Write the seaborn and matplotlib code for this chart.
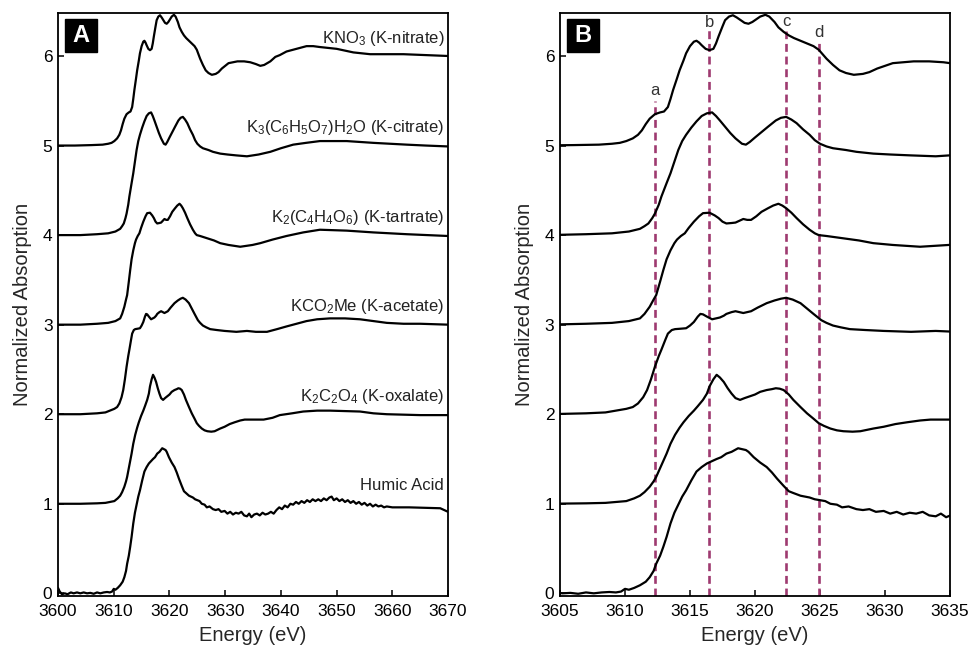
import pandas as pd
import seaborn as sns
import matplotlib.pyplot as plt
from matplotlib.patches import Rectangle

# K K-edge XANES spectra: (energy eV, normalized absorption)
nitrate = [(3600, 0.00), (3603, 0.00), (3606, 0.005), (3608, 0.01), (3609, 0.02), (3609.6, 0.03),
           (3610.1, 0.05), (3610.6, 0.08), (3611.0, 0.12), (3611.3, 0.17), (3611.6, 0.24),
           (3611.9, 0.30), (3612.3, 0.35), (3612.7, 0.37), (3613.0, 0.38), (3613.3, 0.43),
           (3613.5, 0.52), (3613.7, 0.62), (3614.0, 0.75), (3614.2, 0.84), (3614.5, 0.95),
           (3614.7, 1.03), (3615.0, 1.11), (3615.3, 1.16), (3615.5, 1.17), (3615.7, 1.15),
           (3615.9, 1.12), (3616.2, 1.08), (3616.5, 1.065), (3616.8, 1.08), (3617.0, 1.14),
           (3617.2, 1.22), (3617.5, 1.33), (3617.7, 1.40), (3618.0, 1.44), (3618.3, 1.455),
           (3618.6, 1.43), (3618.9, 1.40), (3619.2, 1.37), (3619.5, 1.36), (3619.8, 1.38),
           (3620.1, 1.41), (3620.4, 1.44), (3620.8, 1.46), (3621.1, 1.44), (3621.5, 1.38),
           (3621.8, 1.32), (3622.2, 1.27), (3622.6, 1.23), (3623.0, 1.20), (3623.5, 1.17),
           (3624.0, 1.14), (3624.5, 1.11), (3624.9, 1.07), (3625.2, 1.02), (3625.5, 0.97),
           (3626.0, 0.90), (3626.5, 0.84), (3627.0, 0.81), (3627.6, 0.79), (3628.3, 0.80),
           (3628.8, 0.82), (3629.4, 0.86), (3630.0, 0.89), (3630.6, 0.92), (3631.4, 0.93),
           (3632.2, 0.94), (3633.4, 0.94), (3634.5, 0.93), (3635.5, 0.91), (3636.3, 0.89),
           (3637.0, 0.90), (3638.1, 0.94), (3639.0, 0.99), (3639.8, 1.01), (3641.0, 1.05),
           (3642.2, 1.07), (3643.4, 1.09), (3644.6, 1.11), (3645.8, 1.11), (3647.0, 1.10),
           (3648.5, 1.09), (3650.0, 1.08), (3651.5, 1.06), (3653.0, 1.04), (3654.5, 1.03),
           (3656.0, 1.02), (3659.0, 1.02), (3662.0, 1.02), (3666.0, 1.01), (3670, 1.00)]

citrate = [(3600, 0.0), (3604, 0.0), (3607, 0.01), (3609, 0.02), (3610.3, 0.04), (3611.15, 0.07),
           (3611.5, 0.10), (3611.8, 0.13), (3612.1, 0.19), (3612.3, 0.24), (3612.6, 0.34),
           (3612.8, 0.43), (3613.2, 0.58), (3613.5, 0.69), (3613.8, 0.82), (3614.1, 0.95),
           (3614.4, 1.05), (3614.7, 1.12), (3615.1, 1.20), (3615.5, 1.27), (3615.9, 1.33),
           (3616.3, 1.36), (3616.7, 1.37), (3617.0, 1.33), (3617.3, 1.28), (3617.7, 1.21),
           (3618.1, 1.14), (3618.5, 1.08), (3619.0, 1.02), (3619.3, 1.01), (3619.6, 1.04),
           (3620.0, 1.09), (3620.5, 1.15), (3621.0, 1.21), (3621.6, 1.28), (3622.0, 1.31),
           (3622.4, 1.32), (3622.8, 1.29), (3623.2, 1.25), (3623.7, 1.18), (3624.2, 1.12),
           (3624.6, 1.06), (3625.0, 1.02), (3625.5, 0.99), (3626.0, 0.97), (3627.0, 0.95),
           (3627.8, 0.93), (3629.1, 0.91), (3630.4, 0.90), (3632.0, 0.89), (3633.9, 0.88),
           (3636.0, 0.90), (3638.1, 0.93), (3640.0, 0.97), (3642.2, 1.01), (3644.5, 1.03),
           (3647.0, 1.05), (3651.8, 1.05), (3656.6, 1.03), (3662.6, 1.01), (3666, 1.00),
           (3670, 0.99)]

tartrate = [(3600, 0.0), (3604, 0.0), (3607, 0.01), (3609, 0.02), (3610.3, 0.04), (3611.15, 0.07),
            (3611.5, 0.12), (3611.9, 0.20), (3612.2, 0.28), (3612.4, 0.33), (3612.7, 0.48),
            (3612.95, 0.61), (3613.2, 0.73), (3613.5, 0.83), (3613.8, 0.91), (3614.0, 0.95),
            (3614.3, 0.99), (3614.6, 1.02), (3614.9, 1.08), (3615.3, 1.15), (3615.7, 1.21),
            (3616.0, 1.245), (3616.5, 1.25), (3616.9, 1.22), (3617.2, 1.19), (3617.5, 1.15),
            (3617.8, 1.13), (3618.2, 1.135), (3618.5, 1.14), (3618.8, 1.16), (3619.1, 1.18),
            (3619.4, 1.17), (3619.7, 1.17), (3620.1, 1.21), (3620.5, 1.26), (3621.0, 1.30),
            (3621.4, 1.33), (3621.8, 1.35), (3622.1, 1.33), (3622.4, 1.30), (3622.8, 1.25),
            (3623.2, 1.19), (3623.7, 1.12), (3624.2, 1.06), (3624.6, 1.02), (3624.9, 1.00),
            (3625.5, 0.99), (3626.0, 0.98), (3627.0, 0.96), (3628.0, 0.94), (3629.1, 0.91),
            (3630.6, 0.89), (3632.7, 0.87), (3634.9, 0.89), (3636.3, 0.91), (3638.5, 0.95),
            (3641.0, 0.99), (3644.0, 1.03), (3647.0, 1.06), (3651.8, 1.05), (3656.6, 1.03),
            (3662.6, 1.01), (3670, 0.99)]

acetate = [(3600, 0.0), (3604, 0.0), (3607, 0.01), (3608.5, 0.02), (3610.1, 0.06), (3610.6, 0.08),
           (3611.0, 0.12), (3611.4, 0.19), (3611.7, 0.27), (3612.0, 0.39), (3612.3, 0.53),
           (3612.6, 0.65), (3612.8, 0.72), (3613.1, 0.83), (3613.3, 0.90), (3613.6, 0.94),
           (3613.85, 0.95), (3614.3, 0.955), (3614.7, 0.96), (3615.0, 0.99), (3615.3, 1.03),
           (3615.6, 1.09), (3615.8, 1.12), (3616.0, 1.115), (3616.3, 1.09), (3616.7, 1.06),
           (3617.0, 1.07), (3617.3, 1.08), (3617.6, 1.10), (3617.8, 1.12), (3618.2, 1.14),
           (3618.5, 1.15), (3618.8, 1.14), (3619.1, 1.13), (3619.4, 1.14), (3619.7, 1.15),
           (3620.2, 1.19), (3620.9, 1.24), (3621.5, 1.27), (3622.0, 1.29), (3622.4, 1.30),
           (3622.9, 1.28), (3623.5, 1.24), (3624.0, 1.18), (3624.5, 1.12), (3625.1, 1.05),
           (3625.5, 1.02), (3626.0, 0.99), (3626.6, 0.97), (3627.3, 0.95), (3628.5, 0.94),
           (3629.9, 0.93), (3632.0, 0.92), (3633.9, 0.93), (3635.5, 0.92), (3637.5, 0.92),
           (3639.3, 0.95), (3641.0, 0.98), (3642.8, 1.01), (3644.6, 1.04), (3646.5, 1.06),
           (3648.8, 1.07), (3651.5, 1.07), (3654.2, 1.06), (3656.6, 1.04), (3659.0, 1.02),
           (3662.0, 1.01), (3665.0, 1.01), (3670, 1.00)]

oxalate = [(3600, 0.0), (3604, 0.0), (3607, 0.005), (3608.5, 0.01), (3610.1, 0.03), (3610.7, 0.06),
           (3611.15, 0.09), (3611.5, 0.13), (3611.9, 0.19), (3612.2, 0.25), (3612.4, 0.30),
           (3612.8, 0.43), (3613.2, 0.56), (3613.5, 0.67), (3613.85, 0.77), (3614.2, 0.85),
           (3614.5, 0.91), (3614.9, 0.98), (3615.3, 1.04), (3615.6, 1.09), (3616.0, 1.16),
           (3616.3, 1.23), (3616.5, 1.31), (3616.8, 1.39), (3617.05, 1.44), (3617.3, 1.41),
           (3617.6, 1.36), (3617.9, 1.29), (3618.2, 1.23), (3618.5, 1.18), (3618.85, 1.16),
           (3619.2, 1.18), (3619.6, 1.20), (3620.0, 1.22), (3620.4, 1.25), (3620.9, 1.27),
           (3621.3, 1.28), (3621.6, 1.29), (3621.9, 1.285), (3622.2, 1.27), (3622.6, 1.22),
           (3622.95, 1.16), (3623.5, 1.08), (3624.0, 1.01), (3624.5, 0.95), (3624.9, 0.90),
           (3625.3, 0.87), (3625.8, 0.84), (3626.3, 0.82), (3626.8, 0.81), (3627.5, 0.805),
           (3628.1, 0.81), (3629.1, 0.84), (3629.9, 0.86), (3630.8, 0.89), (3631.7, 0.91),
           (3632.7, 0.93), (3633.5, 0.94), (3635.0, 0.94), (3636.9, 0.94), (3638.5, 0.96),
           (3639.8, 0.99), (3642.0, 1.01), (3644.0, 1.03), (3646.5, 1.04), (3648.8, 1.04),
           (3651.5, 1.035), (3654.2, 1.03), (3656.6, 1.01), (3659.0, 1.00), (3665.0, 0.99),
           (3670, 0.99)]

humic = [(3600, 0.06), (3600.3, 0.02), (3600.7, -0.01), (3601.2, 0.0), (3601.7, -0.01), (3602.3, 0.01),
         (3602.8, 0.0), (3603.4, 0.01), (3604, 0.0), (3604.6, 0.01), (3605.2, 0.0), (3605.8, 0.005),
         (3606.4, -0.005), (3607, 0.01), (3607.6, 0.0), (3608.2, 0.01), (3608.8, 0.015), (3609.3, 0.01),
         (3609.7, 0.02), (3610.0, 0.05), (3610.3, 0.04), (3610.7, 0.06), (3611.15, 0.09), (3611.6, 0.13),
         (3611.9, 0.18), (3612.2, 0.25), (3612.4, 0.33), (3612.7, 0.42), (3612.95, 0.52), (3613.2, 0.63),
         (3613.5, 0.78), (3613.8, 0.90), (3614.1, 0.99), (3614.4, 1.08), (3614.7, 1.15), (3615.1, 1.26),
         (3615.5, 1.36), (3615.9, 1.41), (3616.3, 1.45), (3616.6, 1.47), (3617.05, 1.50), (3617.4, 1.52),
         (3617.8, 1.56), (3618.2, 1.58), (3618.7, 1.62), (3619.0, 1.61), (3619.3, 1.60), (3619.5, 1.58),
         (3619.9, 1.52), (3620.4, 1.46), (3620.9, 1.41), (3621.3, 1.35), (3621.7, 1.28), (3622.2, 1.20),
         (3622.6, 1.14), (3622.95, 1.12), (3623.5, 1.09), (3624.2, 1.07), (3624.6, 1.05), (3625.0, 1.04),
         (3625.4, 1.03), (3625.8, 1.00), (3626.3, 0.99), (3626.7, 0.96), (3627.2, 0.97), (3627.8, 0.94),
         (3628.3, 0.93), (3628.8, 0.94), (3629.3, 0.91), (3629.9, 0.92), (3630.4, 0.89), (3630.9, 0.91),
         (3631.4, 0.88), (3631.9, 0.90), (3632.4, 0.89), (3632.9, 0.91), (3633.4, 0.87), (3633.9, 0.86),
         (3634.3, 0.89), (3634.7, 0.85), (3635.2, 0.88), (3635.7, 0.89), (3636.2, 0.87), (3636.7, 0.90),
         (3637.2, 0.88), (3637.7, 0.89), (3638.2, 0.91), (3638.7, 0.89), (3639.2, 0.93), (3639.7, 0.96),
         (3640.2, 0.94), (3640.7, 0.98), (3641.2, 0.96), (3641.7, 1.00), (3642.2, 0.99), (3642.7, 1.02),
         (3643.2, 1.00), (3643.7, 1.03), (3644.2, 1.01), (3644.7, 1.04), (3645.2, 1.02), (3645.7, 1.05),
         (3646.2, 1.03), (3646.7, 1.05), (3647.2, 1.03), (3647.7, 1.06), (3648.2, 1.04), (3648.7, 1.07),
         (3649.1, 1.08), (3649.5, 1.04), (3650.0, 1.06), (3650.5, 1.03), (3651.0, 1.05), (3651.5, 1.02),
         (3652.0, 1.04), (3652.5, 1.01), (3653.0, 1.03), (3653.5, 1.00), (3654.0, 1.02), (3654.5, 0.99),
         (3655.0, 1.01), (3655.5, 0.98), (3656.0, 1.00), (3656.5, 0.97), (3657.0, 0.99), (3657.5, 0.97),
         (3658.0, 0.98), (3658.5, 0.96), (3659.0, 0.97), (3660, 0.96), (3663, 0.96), (3666, 0.955),
         (3668.6, 0.95), (3669.3, 0.93), (3670, 0.91)]

sample_labels = [r"KNO$_\mathregular{3}$ (K-nitrate)",
                 r"K$_\mathregular{3}$(C$_\mathregular{6}$H$_\mathregular{5}$O$_\mathregular{7}$)H$_\mathregular{2}$O (K-citrate)",
                 r"K$_\mathregular{2}$(C$_\mathregular{4}$H$_\mathregular{4}$O$_\mathregular{6}$) (K-tartrate)",
                 r"KCO$_\mathregular{2}$Me (K-acetate)",
                 r"K$_\mathregular{2}$C$_\mathregular{2}$O$_\mathregular{4}$ (K-oxalate)",
                 "Humic Acid"]
spectra = [nitrate, citrate, tartrate, acetate, oxalate, humic]
stack_offset = [5, 4, 3, 2, 1, 0]

# feature energies marked in panel B
feature_names = ["a", "b", "c", "d"]
feature_e = [3612.3, 3616.5, 3622.4, 3624.9]
feature_top = [5.50, 6.29, 6.28, 6.18]
feature_label_y = [5.62, 6.37, 6.38, 6.26]

sns.set_style("ticks")
plt.rcParams.update({
    "font.family": ["Liberation Sans", "DejaVu Sans"],
    "mathtext.fontset": "custom",
    "mathtext.rm": "Liberation Sans",
    "mathtext.it": "Liberation Sans:italic",
    "mathtext.bf": "Liberation Sans:bold",
    "axes.edgecolor": "black",
    "axes.linewidth": 1.3,
    "xtick.direction": "in",
    "ytick.direction": "in",
    "xtick.major.size": 4,
    "ytick.major.size": 4,
    "xtick.color": "black",
    "ytick.color": "black",
})

frames = []
for name, spec, off in zip(sample_labels, spectra, stack_offset):
    e, mu = zip(*spec)
    frames.append(pd.DataFrame({"energy": e, "absorption": [m + off for m in mu], "sample": name}))
df = pd.concat(frames, ignore_index=True)

fig = plt.figure(figsize=(9.69, 6.47), dpi=100)
ax_a = fig.add_axes([0.0599, 0.0788, 0.4025, 0.9011])
ax_b = fig.add_axes([0.5779, 0.0788, 0.4025, 0.9011])

for ax, xlim, xticks in [(ax_a, (3600, 3670), range(3600, 3671, 10)),
                         (ax_b, (3605, 3635), range(3605, 3636, 5))]:
    sns.lineplot(data=df, x="energy", y="absorption", hue="sample", units="sample",
                 estimator=None, palette=["black"] * len(sample_labels),
                 linewidth=1.6, legend=False, ax=ax)
    ax.set_xlim(*xlim)
    ax.set_ylim(-0.03, 6.48)
    ax.set_xticks(list(xticks))
    ax.set_yticks(range(0, 7))
    ax.tick_params(labelsize=12.5, width=1.1)
    ax.tick_params(axis="x", pad=6)
    ax.tick_params(axis="y", pad=4)
    ax.set_xlabel("Energy (eV)", fontsize=14.5, labelpad=5)
    ax.set_ylabel("Normalized Absorption", fontsize=14.5, labelpad=8)

# sample names, panel A
for name, off in zip(sample_labels, stack_offset):
    ax_a.text(3669.3, off + 1.2, name, ha="right", va="center", fontsize=12, color="#222222")

# feature lines, panel B
for name, e, top, ly in zip(feature_names, feature_e, feature_top, feature_label_y):
    ax_b.vlines(e, -0.03, top, colors="#9e3a70", linestyles=(0, (3, 1.8)), linewidth=1.9, zorder=1)
    ax_b.text(e, ly, name, ha="center", va="center", fontsize=12, color="#333333")

# panel letters
for ax, letter in [(ax_a, "A"), (ax_b, "B")]:
    ax.add_patch(Rectangle((0.018, 0.933), 0.082, 0.0566, transform=ax.transAxes,
                           facecolor="black", edgecolor="black", zorder=5, clip_on=False))
    ax.text(0.059, 0.962, letter, transform=ax.transAxes, ha="center", va="center",
            fontsize=17, fontweight="bold", color="white", zorder=6)

fig.savefig("out.png", dpi=100)
